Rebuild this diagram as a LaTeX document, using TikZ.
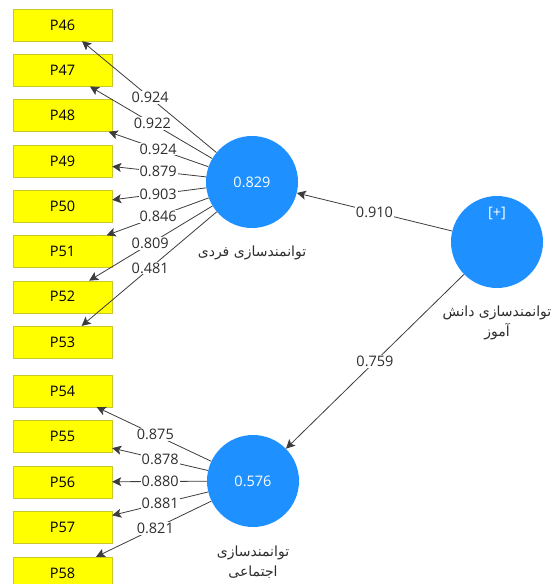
\documentclass[tikz,border=0pt]{standalone}
\usepackage{fontspec}
\setmainfont{Open Sans}
\newfontfamily\arabicfont[Script=Arabic]{DejaVu Sans}
\TeXXeTstate=1
\usetikzlibrary{arrows.meta,calc}
\definecolor{latent}{RGB}{30,144,255}
\definecolor{indfill}{RGB}{255,255,0}
\definecolor{indline}{RGB}{200,200,40}
\definecolor{wire}{RGB}{60,60,60}
\definecolor{ink}{RGB}{45,45,45}
\tikzset{
  indicator/.style={rectangle, draw=indline, fill=indfill, minimum width=99pt,
    minimum height=32pt, inner sep=0pt, text=black, font=\fontsize{14.5}{16}\selectfont},
  construct/.style={circle, fill=latent, minimum size=92pt, inner sep=0pt,
    text=white, font=\fontsize{14.5}{16}\selectfont},
  loading/.style={draw=wire, line width=0.8pt, -{Stealth[length=9pt,width=9pt,inset=2pt]}},
  weight/.style={fill=white, inner sep=1pt, text=ink, font=\fontsize{14.5}{16}\selectfont},
  fa/.style={align=center, text=ink, font=\arabicfont\fontsize{14}{20}\selectfont},
}
\begin{document}
\begin{tikzpicture}[x=1pt,y=-1pt]
\useasboundingbox (0,0) rectangle (557,584);

% indicators
\foreach \n [count=\i from 0] in {46,...,53}
  \node[indicator] (p\n) at (62.5,25+45.3*\i) {P\n};
\foreach \n [count=\i from 0] in {54,...,58}
  \node[indicator] (p\n) at (62.5,391+45.5*\i) {P\n};

% constructs
\node[construct] (ind) at (252,182) {0.829};
\node[construct] (soc) at (253,481) {0.576};
\node[construct] (stu) at (497,242) {};
\node[text=white, font=\fontsize{14.5}{16}\selectfont] (stutag) at (497,213) {[+]};

\node[fa] (indname) at (252,253) {\beginR توانمندسازی فردی\endR};
\node[fa] (socname) at (253,562) {\beginR توانمندسازی\endR\\\beginR اجتماعی\endR};
\node[fa] (stuname) at (497,323) {\beginR توانمندسازی دانش\endR\\\beginR آموز\endR};

% outer loadings
\foreach \n in {46,...,53} \draw[loading] (ind) -- (p\n);
\foreach \n in {54,...,58} \draw[loading] (soc) -- (p\n);
\draw[loading] (stu) -- (ind);
\draw[loading] (stu) -- (soc);

\foreach \n/\v/\t in {46/0.924/0.537, 47/0.922/0.526, 48/0.924/0.495, 49/0.879/0.495,
    50/0.903/0.495, 51/0.846/0.495, 52/0.809/0.537, 53/0.481/0.537}
  \node[weight] (w\n) at ($(ind)!\t!(p\n)$) {\v};
\foreach \n/\v/\t in {54/0.875/0.513, 55/0.878/0.487, 56/0.880/0.487, 57/0.881/0.487,
    58/0.821/0.513}
  \node[weight] (w\n) at ($(soc)!\t!(p\n)$) {\v};

% path coefficients
\node[weight] (wind) at ($(stu)!0.5!(ind)$) {0.910};
\node[weight] (wsoc) at ($(stu)!0.5!(soc)$) {0.759};
\end{tikzpicture}
\end{document}
